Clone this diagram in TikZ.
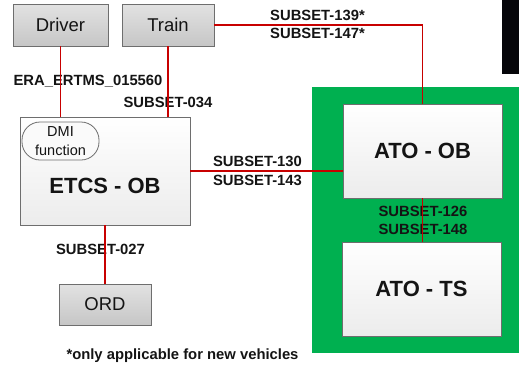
\documentclass[tikz,border=0pt]{standalone}
\usepackage{fontspec}
\setmainfont{Liberation Sans}
\usetikzlibrary{shadows}
\definecolor{boxline}{RGB}{110,110,110}
\definecolor{redline}{RGB}{200,0,0}
\definecolor{greenbg}{RGB}{0,176,80}
\definecolor{graytop}{RGB}{226,226,226}
\definecolor{graybot}{RGB}{198,198,198}
\definecolor{whitebot}{RGB}{236,236,236}
\definecolor{txt}{RGB}{20,20,20}
\definecolor{blackbar}{RGB}{6,6,10}
\begin{document}
\begin{tikzpicture}[x=1pt,y=-1pt,
  graybox/.style={draw=boxline, line width=0.8pt, top color=graytop, bottom color=graybot,
    minimum width=#1, minimum height=42pt, inner sep=0pt, text=txt,
    font=\fontsize{18.5}{20}\selectfont},
  whitebox/.style={draw=boxline, line width=0.8pt, top color=white, bottom color=whitebot,
    inner sep=0pt, text=txt, font=\bfseries\fontsize{22}{24}\selectfont,
    drop shadow={shadow xshift=1pt, shadow yshift=-1pt, fill=gray!70, opacity=0.8}},
  lbl/.style={text=txt, inner sep=0pt, font=\bfseries\fontsize{14.8}{16}\selectfont},
  conn/.style={draw=redline, line width=1.2pt}]
\useasboundingbox (0,0) rectangle (519,365);
% background elements
\fill[blackbar] (502,0) rectangle (519,74);
\node[fill=greenbg, minimum width=207pt, minimum height=266pt, inner sep=0pt, anchor=north west] (green) at (312,87) {};
% boxes
\node[graybox=95pt] (driver) at (60.5,25) {Driver};
\node[graybox=92pt] (train) at (168,25) {Train};
\node[graybox=92pt, minimum height=41pt] (ord) at (105,304.5) {ORD};
\node[whitebox, minimum width=170pt, minimum height=108pt] (etcs) at (105,171) {};
\node[text=txt, font=\bfseries\fontsize{22}{24}\selectfont] (etcslabel) at (105,186) {ETCS - OB};
\node[draw=boxline, line width=0.8pt, fill=white!96!gray, rounded corners=18pt,
  minimum width=77pt, minimum height=38pt, inner sep=0pt, align=center, text=txt,
  font=\fontsize{14.5}{19}\selectfont] (dmi) at (60.5,141) {DMI\\function};
\node[whitebox, minimum width=159pt, minimum height=94pt] (atoob) at (422.5,151) {ATO - OB};
\node[whitebox, minimum width=159pt, minimum height=94pt] (atots) at (421.5,289) {ATO - TS};
% labels
\node[lbl] (l139) at (317.5,15) {SUBSET-139*};
\node[lbl] (l147) at (317.5,33) {SUBSET-147*};
\node[lbl] (lera) at (88,81) {ERA\_ERTMS\_015560};
\node[lbl] (l034) at (168,102) {SUBSET-034};
\node[lbl] (l130) at (257.5,161) {SUBSET-130};
\node[lbl] (l143) at (257.5,180) {SUBSET-143};
\node[lbl] (l126) at (423,211) {SUBSET-126};
\node[lbl] (l148) at (423,229) {SUBSET-148};
\node[lbl] (l027) at (100.5,249) {SUBSET-027};
\node[lbl] (note) at (182.5,356) {*only applicable for new vehicles};
% connectors
\draw[conn] (driver.south) -- (driver.south |- etcs.north);
\draw[conn] (train.south) -- (train.south |- etcs.north);
\draw[conn] (train.east) -| (atoob.north);
\draw[conn] (etcs.east) -- (etcs.east -| atoob.west);
\draw[conn] (atoob.south) -- (atoob.south |- atots.north);
\draw[conn] (etcs.south) -- (ord.north);
\end{tikzpicture}
\end{document}
